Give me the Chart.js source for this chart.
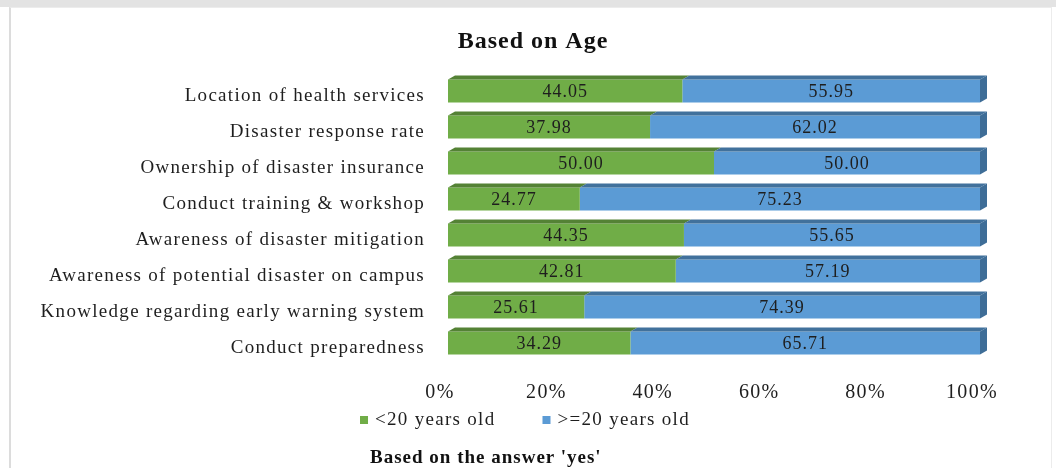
<!DOCTYPE html>
<html>
<head>
<meta charset="utf-8">
<script src="https://cdn.jsdelivr.net/npm/chart.js@4"></script>
<style>
	body { margin: 0; background: #fff; }
	#wrap { position: relative; width: 1056px; height: 468px; overflow: hidden; }
	#band { position: absolute; left: 0; top: 0; width: 1056px; height: 7px; background: #e3e3e3; }
	#frame { position: absolute; left: 9px; top: 7px; width: 1040px; height: 470px;
		border-left: 2px solid #dcdcdc; border-right: 1px solid #ececec; border-top: 1px solid #ececec; }
	#note { position: absolute; left: 370px; top: 446px; font: bold 19px "Liberation Serif", serif;
		letter-spacing: 1px; color: #111; }
	canvas { position: absolute; left: 0; top: 0; }
</style>
</head>
<body>
<div id="wrap">
	<div id="band"></div>
	<div id="frame"></div>
	<canvas id="age" width="1056" height="468"></canvas>
	<div id="note">Based on the answer 'yes'</div>
</div>
<script>
/* Data */
var categories = [
	"Location of health services",
	"Disaster response rate",
	"Ownership of disaster insurance",
	"Conduct training & workshop",
	"Awareness of disaster mitigation",
	"Awareness of potential disaster on campus",
	"Knowledge regarding early warning system",
	"Conduct preparedness"
];
var under20 = [44.05, 37.98, 50.00, 24.77, 44.35, 42.81, 25.61, 34.29];
var over20 = [55.95, 62.02, 50.00, 75.23, 55.65, 57.19, 74.39, 65.71];
var seriesNames = ["<20 years old", ">=20 years old"];
var chartTitle = "Based on Age";

var serif = "'Liberation Serif', 'Times New Roman', serif";

/* fake 3D faces, value labels, title and legend */
var bars3d = {
	id: "bars3d",
	beforeDraw: function(chart) {
		chart.ctx.letterSpacing = "1.3px";
	},
	afterDatasetsDraw: function(chart) {
		var ctx = chart.ctx;
		var dx = 7, dy = 4;
		var last = chart.data.datasets.length - 1;
		ctx.save();
		chart.data.datasets.forEach(function(ds, i) {
			var meta = chart.getDatasetMeta(i);
			meta.data.forEach(function(bar, j) {
				var p = bar.getProps(["x", "y", "base", "height"], true);
				var top = p.y - p.height / 2, bottom = p.y + p.height / 2;
				ctx.fillStyle = ds.topColor;
				ctx.beginPath();
				ctx.moveTo(p.base, top);
				ctx.lineTo(p.x, top);
				ctx.lineTo(p.x + dx, top - dy);
				ctx.lineTo(p.base + dx, top - dy);
				ctx.closePath();
				ctx.fill();
				if (i == last) {
					ctx.fillStyle = ds.sideColor;
					ctx.beginPath();
					ctx.moveTo(p.x, top);
					ctx.lineTo(p.x + dx, top - dy);
					ctx.lineTo(p.x + dx, bottom - dy);
					ctx.lineTo(p.x, bottom);
					ctx.closePath();
					ctx.fill();
				}
				ctx.letterSpacing = "1px";
				ctx.fillStyle = "#1e1e1e";
				ctx.font = "18px " + serif;
				ctx.textAlign = "center";
				ctx.textBaseline = "middle";
				ctx.fillText(ds.data[j].toFixed(2), (p.base + p.x) / 2, p.y + 1);
			});
		});
		ctx.restore();
	},
	afterDraw: function(chart) {
		var ctx = chart.ctx;
		ctx.save();
		// title
		ctx.letterSpacing = "1px";
		ctx.fillStyle = "#111";
		ctx.font = "bold 24px " + serif;
		ctx.textAlign = "center";
		ctx.textBaseline = "middle";
		ctx.fillText(chartTitle, 533, 42);
		// legend
		ctx.letterSpacing = "1.3px";
		ctx.font = "19px " + serif;
		ctx.textAlign = "left";
		var box = 8, gap = 7, between = 47;
		var widths = chart.data.datasets.map(function(ds) {
			return box + gap + ctx.measureText(ds.label).width;
		});
		var total = widths[0] + between + widths[1];
		var x = 525 - total / 2, y = 420;
		chart.data.datasets.forEach(function(ds, i) {
			ctx.fillStyle = ds.backgroundColor;
			ctx.fillRect(x, y - box / 2, box, box);
			ctx.fillStyle = "#1e1e1e";
			ctx.fillText(ds.label, x + box + gap, y);
			x += widths[i] + between;
		});
		ctx.restore();
	}
};

var ctxAge = document.getElementById("age");

var ageBars = new Chart(ctxAge, {
	type: "bar",
	data: {
		labels: categories,
		datasets: [
			{
				label: seriesNames[0],
				data: under20,
				backgroundColor: "#70ad47",
				topColor: "#548235",
				sideColor: "#507e32"
			},
			{
				label: seriesNames[1],
				data: over20,
				backgroundColor: "#5b9bd5",
				topColor: "#41719c",
				sideColor: "#3e6d97"
			}
		]
	},
	options: {
		indexAxis: "y",
		responsive: false,
		animation: false,
		barPercentage: 0.64,
		categoryPercentage: 1,
		layout: { padding: { left: 10, right: 76, top: 73, bottom: 64 } },
		scales: {
			x: {
				stacked: true,
				min: 0,
				max: 100,
				grid: { display: false },
				border: { display: false },
				afterFit: function(s) { s.height = 43; },
				ticks: {
					stepSize: 20,
					padding: 12,
					labelOffset: -8,
					color: "#1e1e1e",
					font: { family: serif, size: 20 },
					callback: function(v) { return v + "%"; }
				}
			},
			y: {
				stacked: true,
				grid: { display: false },
				border: { display: false },
				afterFit: function(s) { s.width = 438; },
				ticks: {
					padding: 15,
					labelOffset: 5,
					color: "#1e1e1e",
					font: { family: serif, size: 19 }
				}
			}
		},
		plugins: {
			title: { display: false },
			legend: { display: false },
			tooltip: { enabled: false }
		}
	},
	plugins: [bars3d]
});
</script>
</body>
</html>
